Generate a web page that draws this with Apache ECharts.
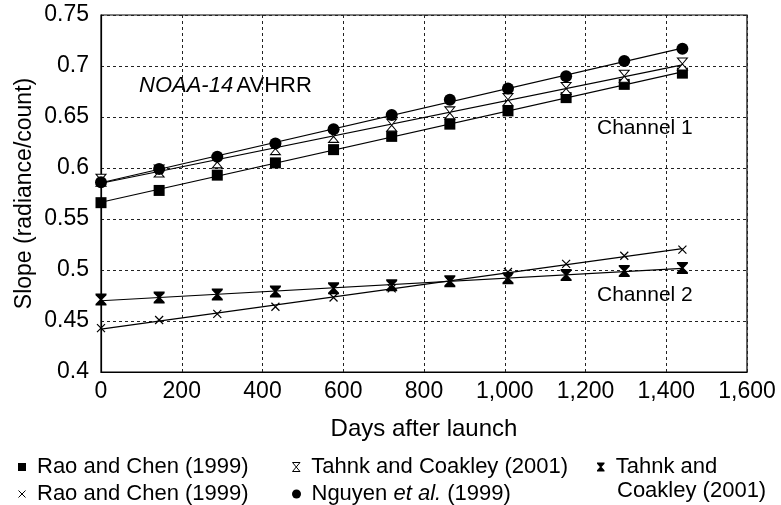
<!DOCTYPE html>
<html>
<head>
<meta charset="utf-8">
<script src="https://cdn.jsdelivr.net/npm/echarts@6/dist/echarts.min.js"></script>
<style>
  html, body { margin: 0; padding: 0; background: #fff; }
  #chart { width: 781px; height: 505px; }
</style>
</head>
<body>
<div id="chart"></div>
<script>
// days after launch for every sample
var days = [0, 144, 288, 432, 576, 720, 864, 1008, 1152, 1296, 1440];

// channel 1
var raoCh1 = [0.566, 0.578, 0.593, 0.605, 0.618, 0.631, 0.643, 0.656, 0.669, 0.682, 0.693];
var tahnkCh1 = [0.588, 0.597, 0.606, 0.619, 0.631, 0.642, 0.654, 0.667, 0.678, 0.690, 0.702];
var nguyenCh1 = [0.586, 0.599, 0.611, 0.624, 0.638, 0.652, 0.667, 0.678, 0.690, 0.705, 0.717];

// channel 2
var raoCh2 = [0.443, 0.451, 0.457, 0.464, 0.473, 0.482, 0.489, 0.498, 0.506, 0.514, 0.520];
var tahnkCh2 = [0.471, 0.473, 0.476, 0.479, 0.482, 0.485, 0.489, 0.492, 0.495, 0.499, 0.502];

var FONT = '"Liberation Sans", Arial, Helvetica, sans-serif';

var SQUARE = 'path://M0,0H10V10H0Z';
var CROSS = 'path://M0,0L10,10M10,0L0,10';
var HOURGLASS = 'path://M0,0L10,0L5,6L10,12L0,12L5,6Z';
var HOURGLASS_BAR = 'path://M0,0H10V1.6L6.1,6L10,10.4V12H0V10.4L3.9,6L0,1.6Z';

function pairs(ys) {
    return days.map(function (d, i) { return [d, ys[i]]; });
}

// least squares line through the points, drawn from first to last day
function fitLine(ys) {
    var n = days.length, sx = 0, sy = 0, sxx = 0, sxy = 0;
    for (var i = 0; i < n; i++) {
        sx += days[i]; sy += ys[i];
        sxx += days[i] * days[i]; sxy += days[i] * ys[i];
    }
    var b = (n * sxy - sx * sy) / (n * sxx - sx * sx);
    var a = (sy - b * sx) / n;
    var x0 = days[0], x1 = days[n - 1];
    return [[x0, a + b * x0], [x1, a + b * x1]];
}

var black = '#000';

var pointSeries = [
    { name: 'raoCh1', ys: raoCh1, symbol: SQUARE, size: 11, style: { color: black } },
    { name: 'raoCh2', ys: raoCh2, symbol: CROSS, size: 8, style: { color: 'transparent', borderColor: black, borderWidth: 1.2 } },
    { name: 'tahnkCh1', ys: tahnkCh1, symbol: HOURGLASS, size: [10, 12], style: { color: '#fff', borderColor: black, borderWidth: 1 } },
    { name: 'nguyenCh1', ys: nguyenCh1, symbol: 'circle', size: 12, style: { color: black } },
    { name: 'tahnkCh2', ys: tahnkCh2, symbol: HOURGLASS_BAR, size: [11, 12], style: { color: black } }
];

var series = [];
pointSeries.forEach(function (p) {
    series.push({
        name: p.name + 'Fit',
        type: 'line',
        data: fitLine(p.ys),
        showSymbol: false,
        silent: true,
        z: 2,
        lineStyle: { color: black, width: 1.2 }
    });
});
pointSeries.forEach(function (p) {
    series.push({
        name: p.name,
        type: 'scatter',
        data: pairs(p.ys),
        symbol: p.symbol,
        symbolSize: p.size,
        z: 3,
        itemStyle: Object.assign({ opacity: 1 }, p.style)
    });
});

var legendText = { fontFamily: FONT, fontSize: 22, color: black };

function legendAt(name, label, left, top, icon, style, h) {
    return {
        data: [name],
        left: left,
        top: top,
        orient: 'horizontal',
        selectedMode: false,
        icon: icon,
        itemWidth: 20,
        itemHeight: h,
        itemStyle: Object.assign({ opacity: 1 }, style),
        textStyle: Object.assign({
            rich: {
                n: { fontFamily: FONT, fontSize: 22, color: black },
                i: { fontFamily: FONT, fontSize: 22, color: black, fontStyle: 'italic' }
            }
        }, legendText),
        formatter: function () { return label; }
    };
}

var row1 = 451, row2 = 478;

var option = {
    animation: false,
    backgroundColor: '#fff',
    grid: {
        left: 101, right: 34, top: 15, bottom: 133,
        show: true, borderColor: black, borderWidth: 1.2
    },
    xAxis: {
        type: 'value',
        min: 0, max: 1600, interval: 200,
        name: 'Days after launch',
        nameLocation: 'middle',
        nameGap: 45,
        nameTextStyle: { fontFamily: FONT, fontSize: 24, color: black },
        axisLine: { lineStyle: { color: black, width: 1.2 } },
        axisTick: { show: false },
        axisLabel: {
            margin: 8,
            fontFamily: FONT, fontSize: 23, color: black,
            formatter: function (v) { return v.toLocaleString('en-US'); }
        },
        splitLine: { show: true, lineStyle: { color: '#222', width: 1, type: [3, 3] } }
    },
    yAxis: {
        type: 'value',
        min: 0.4, max: 0.75, interval: 0.05,
        name: 'Slope (radiance/count)',
        nameLocation: 'middle',
        nameGap: 65,
        nameMoveOverlap: false,
        nameTextStyle: { fontFamily: FONT, fontSize: 23, color: black },
        axisLine: { show: true, lineStyle: { color: black, width: 1.2 } },
        axisTick: { show: false },
        axisLabel: {
            margin: 12,
            fontFamily: FONT, fontSize: 23, color: black,
            formatter: function (v) { return String(+v.toFixed(2)); }
        },
        splitLine: { show: true, lineStyle: { color: '#222', width: 1, type: [3, 3] } }
    },
    legend: [
        legendAt('raoCh1', '{n|Rao and Chen (1999)}', 13, row1, SQUARE, { color: black }, 8),
        legendAt('raoCh2', '{n|Rao and Chen (1999)}', 13, row2, CROSS, { color: 'transparent', borderColor: black, borderWidth: 1 }, 7),
        legendAt('tahnkCh1', '{n|Tahnk and Coakley (2001)}', 287, row1, HOURGLASS, { color: '#fff', borderColor: black, borderWidth: 1 }, 9),
        legendAt('nguyenCh1', '{n|Nguyen }{i|et al.}{n| (1999)}', 287, row2, 'circle', { color: black }, 9),
        legendAt('tahnkCh2', '{n|Tahnk and}', 592, row1, HOURGLASS_BAR, { color: black }, 9)
    ],
    graphic: [
        {
            type: 'text', left: 617, top: row2 + 2,
            style: { text: 'Coakley (2001)', fontFamily: FONT, fontSize: 22, fill: black }
        },
        {
            type: 'text', left: 139, top: 75,
            style: {
                text: '{i|NOAA-14} {n|AVHRR}',
                rich: {
                    i: { fontFamily: FONT, fontSize: 22, fontStyle: 'italic', fill: black },
                    n: { fontFamily: FONT, fontSize: 22, fill: black }
                }
            }
        },
        {
            type: 'text', left: 597, top: 118,
            style: { text: 'Channel 1', fontFamily: FONT, fontSize: 21, fill: black }
        },
        {
            type: 'text', left: 597, top: 285,
            style: { text: 'Channel 2', fontFamily: FONT, fontSize: 21, fill: black }
        }
    ],
    series: series
};

var chart = echarts.init(document.getElementById('chart'), null, { renderer: 'canvas' });
chart.setOption(option);
window.addEventListener('resize', function () { chart.resize(); });
</script>
</body>
</html>
